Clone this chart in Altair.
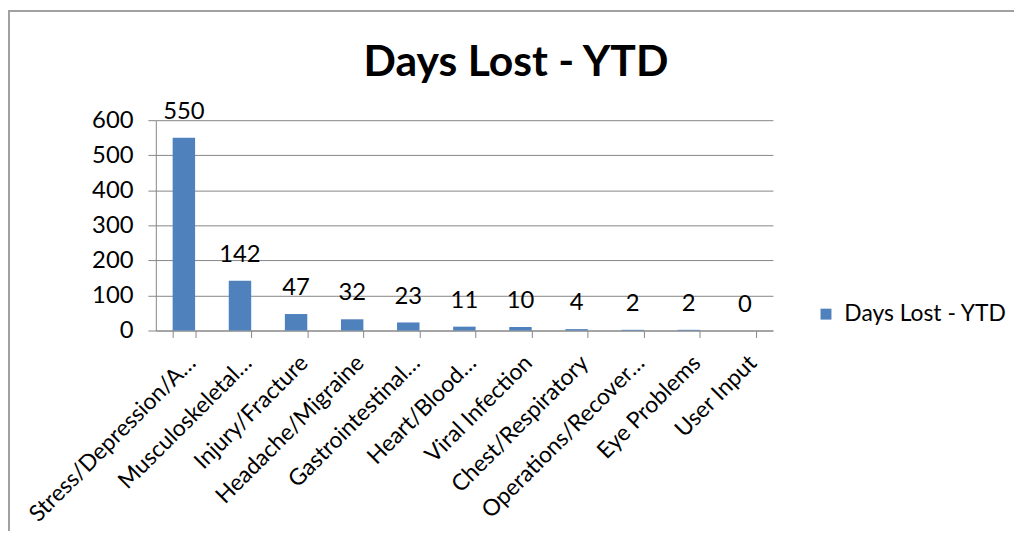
import altair as alt
import pandas as pd

categories = [
    "Stress/Depression/A…", "Musculoskeletal…", "Injury/Fracture",
    "Headache/Migraine", "Gastrointestinal…", "Heart/Blood…",
    "Viral Infection", "Chest/Respiratory", "Operations/Recover…",
    "Eye Problems", "User Input",
]
values = [550, 142, 47, 32, 23, 11, 10, 4, 2, 2, 0]
series_name = "Days Lost - YTD"
chart_title = "Days Lost - YTD"
y_ticks = [0, 100, 200, 300, 400, 500, 600]

df = pd.DataFrame({"category": categories, "value": values, "series": series_name})

FONT = "Lato"
BAR = "#4F81BD"
GRID = "#868686"

x_axis = alt.Axis(
    labelAngle=-45, labelFontSize=23, labelFont=FONT, labelColor="black",
    labelLimit=400, tickBand="extent", tickSize=7, tickColor=GRID,
    domainColor=GRID, grid=False, labelPadding=14, labelOverlap=False,
)
y_axis = alt.Axis(
    values=y_ticks, labelFontSize=24, labelFont=FONT, labelColor="black",
    tickSize=8, tickColor=GRID, domainColor=GRID, gridColor=GRID,
    labelPadding=15, labelOverlap=False,
)
x_enc = alt.X(
    "category:N", sort=categories, title=None,
    scale=alt.Scale(paddingInner=0.6, paddingOuter=0.3), axis=x_axis,
)
y_enc = alt.Y(
    "value:Q", title=None,
    scale=alt.Scale(domain=[0, 600], nice=False), axis=y_axis,
)

bars = alt.Chart(df).mark_bar(color=BAR).encode(
    x=x_enc, y=y_enc,
    color=alt.Color(
        "series:N", title=None,
        scale=alt.Scale(range=[BAR]),
        legend=alt.Legend(
            orient="none", legendX=664, legendY=184, padding=0,
            symbolType="square", symbolSize=121, symbolStrokeWidth=0,
            labelFontSize=23, labelFont=FONT, labelColor="black",
            labelLimit=300, labelOffset=7,
        ),
    ),
)

labels = alt.Chart(df).mark_text(
    fontSize=24, font=FONT, color="black", baseline="middle", dy=-26
).encode(x=x_enc, y=y_enc, text="value:Q")

title_df = pd.DataFrame({"t": [chart_title]})
title = alt.Chart(title_df).mark_text(
    fontSize=43, font=FONT, fontWeight="bold", color="black",
    align="center", baseline="alphabetic",
).encode(text="t:N", x=alt.value(363), y=alt.value(-45))

border = alt.Chart(pd.DataFrame({"a": [0]})).mark_rect(
    fill=None, stroke="#A0A0A0", strokeWidth=2
).encode(
    x=alt.value(-148), x2=alt.value(900),
    y=alt.value(-110), y2=alt.value(450),
)

chart = alt.layer(border, bars, labels, title).properties(
    width=622, height=212,
    autosize=alt.AutoSizeParams(type="none"),
    padding={"left": 149, "top": 111, "right": 243, "bottom": 200},
).configure_view(stroke=None)

chart.save("out.html", embed_options={"renderer": "svg", "actions": False})
